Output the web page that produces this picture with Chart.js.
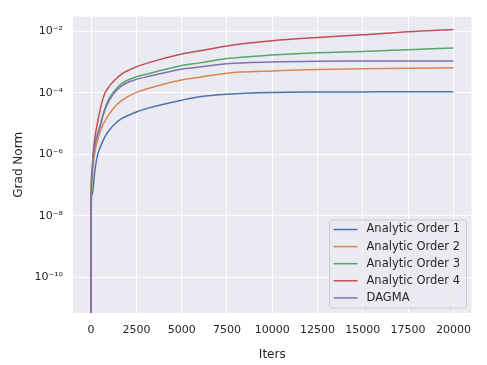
<!DOCTYPE html>
<html><head><meta charset="utf-8">
<script src="https://cdn.jsdelivr.net/npm/chart.js@4"></script>
<style>html,body{margin:0;padding:0;background:#fff}#wrap{width:487px;height:365px}</style>
</head><body><div id="wrap"><canvas id="c" width="487" height="365"></canvas></div>
<script>
const iters  = [0, 10, 50, 100, 165, 250, 370, 500, 650, 800, 1000, 1250, 1700, 2500, 3200, 5000, 6000, 7500, 10000, 12500, 15000, 17500, 20000];
const order1 = [1e-14, 3e-8, 5e-8, 6.5e-8, 1.7e-7, 4.5e-7, 1e-6, 1.66e-6, 2.7e-6, 4e-6, 6e-6, 8.9e-6, 1.45e-5, 2.35e-5, 3.2e-5, 5.7e-5, 7.4e-5, 8.9e-5, 1.01e-4, 1.05e-4, 1.06e-4, 1.07e-4, 1.07e-4];
const order2 = [1e-14, 4e-8, 1.5e-7, 4e-7, 8e-7, 1.6e-6, 3e-6, 5.5e-6, 9e-6, 1.3e-5, 2e-5, 3.2e-5, 5.6e-5, 1.02e-4, 1.4e-4, 2.6e-4, 3.2e-4, 4.3e-4, 5.1e-4, 5.65e-4, 6e-4, 6.2e-4, 6.5e-4];
const order3 = [1e-14, 5e-8, 2.5e-7, 7e-7, 1.5e-6, 2.8e-6, 5e-6, 9e-6, 1.9e-5, 3.5e-5, 6.5e-5, 1.07e-4, 2e-4, 3.3e-4, 4.2e-4, 7.6e-4, 9.3e-4, 1.29e-3, 1.67e-3, 2e-3, 2.2e-3, 2.5e-3, 2.84e-3];
const order4 = [1e-14, 6e-8, 3e-7, 9e-7, 2.2e-6, 5e-6, 1.2e-5, 2.8e-5, 6.3e-5, 1.07e-4, 1.6e-4, 2.4e-4, 4.1e-4, 6.9e-4, 9.5e-4, 1.8e-3, 2.3e-3, 3.3e-3, 4.85e-3, 6.2e-3, 7.6e-3, 9.6e-3, 1.13e-2];
const dagma  = [1e-14, 5e-8, 2.4e-7, 6.5e-7, 1.4e-6, 2.6e-6, 4.6e-6, 8e-6, 1.7e-5, 3.1e-5, 5.5e-5, 9.3e-5, 1.7e-4, 2.7e-4, 3.4e-4, 5.8e-4, 6.8e-4, 8.7e-4, 9.9e-4, 1.05e-3, 1.07e-3, 1.08e-3, 1.08e-3];
const seriesNames = ["Analytic Order 1", "Analytic Order 2", "Analytic Order 3", "Analytic Order 4", "DAGMA"];
const xTicks = [0, 2500, 5000, 7500, 10000, 12500, 15000, 17500, 20000];
const yTicks = [1e-10, 1e-8, 1e-6, 1e-4, 1e-2];

const colors = ["#4C72B0", "#DD8452", "#55A868", "#C44E52", "#8172B3"];
const allSeries = [order1, order2, order3, order4, dagma];
const sup = {"-":"\u207B","0":"\u2070","1":"\u00B9","2":"\u00B2","3":"\u00B3","4":"\u2074","5":"\u2075","6":"\u2076","7":"\u2077","8":"\u2078","9":"\u2079"};
function fmtPow(v){ const e = Math.round(Math.log10(v)); return "10" + String(e).split("").map(c=>sup[c]).join(""); }

const FONT = "'DejaVu Sans', sans-serif";
const TXT = "#262626";

const bgPlugin = {
  id: 'bg',
  beforeDraw(chart){
    const {ctx, chartArea:a} = chart;
    ctx.save(); ctx.fillStyle = "#EAEAF2";
    ctx.fillRect(a.left, a.top, a.right-a.left, a.bottom-a.top); ctx.restore();
  }
};
const legendPlugin = {
  id: 'inlegend',
  afterDatasetsDraw(chart){
    const {ctx} = chart;
    const x0 = 329.5, y0 = 220, w = 137, h = 88;
    ctx.save();
    ctx.beginPath();
    if (ctx.roundRect) ctx.roundRect(x0, y0, w, h, 3); else ctx.rect(x0, y0, w, h);
    ctx.fillStyle = "rgba(234,234,242,0.8)"; ctx.fill();
    ctx.strokeStyle = "#CCCCCC"; ctx.lineWidth = 1; ctx.stroke();
    ctx.font = "11.5px " + FONT; ctx.textBaseline = "middle"; ctx.fillStyle = TXT;
    chart.data.datasets.forEach((ds, i) => {
      const y = 229.5 + i * 17.1;
      ctx.beginPath(); ctx.moveTo(333.5, y); ctx.lineTo(357.5, y);
      ctx.strokeStyle = ds.borderColor; ctx.lineWidth = 1.5; ctx.stroke();
      ctx.fillText(ds.label, 366.5, y);
    });
    ctx.restore();
  }
};

new Chart(document.getElementById('c'), {
  type: 'line',
  data: {
    datasets: allSeries.map((s, i) => ({
      label: seriesNames[i],
      data: iters.map((x, j) => ({x, y: s[j]})),
      borderColor: colors[i],
      backgroundColor: colors[i],
      borderWidth: 1.5,
      pointRadius: 0,
      cubicInterpolationMode: 'monotone',
      order: 5 - i
    }))
  },
  options: {
    responsive: false,
    animation: false,
    devicePixelRatio: 1,
    layout: {padding: {left: 0, top: 14, right: 15.5, bottom: 0}},
    plugins: {legend: {display: false}, tooltip: {enabled: false}},
    scales: {
      x: {
        type: 'linear', min: -1000, max: 21000,
        afterBuildTicks(s){ s.ticks = xTicks.map(v => ({value: v})); },
        afterFit(s){ s.height = 52; },
        grid: {color: '#FFFFFF', lineWidth: 1, drawTicks: false},
        border: {display: false},
        ticks: {color: TXT, font: {family: FONT, size: 11}, padding: 11, maxRotation: 0, autoSkip: false,
                callback: v => String(v)},
        title: {display: true, text: 'Iters', color: TXT, font: {family: FONT, size: 12}, padding: {top: 0, bottom: 3}}
      },
      y: {
        type: 'logarithmic', min: 6.9e-12, max: 2.97e-2,
        afterBuildTicks(s){ s.ticks = yTicks.map(v => ({value: v})); },
        afterFit(s){ s.width = 73; },
        grid: {color: '#FFFFFF', lineWidth: 1, drawTicks: false},
        border: {display: false},
        ticks: {color: TXT, font: {family: FONT, size: 11}, padding: 10, autoSkip: false,
                callback: v => fmtPow(v)},
        title: {display: true, text: 'Grad Norm', color: TXT, font: {family: FONT, size: 12}, padding: {top: 11.8, bottom: 0}}
      }
    }
  },
  plugins: [bgPlugin, legendPlugin]
});
</script>
</body></html>
